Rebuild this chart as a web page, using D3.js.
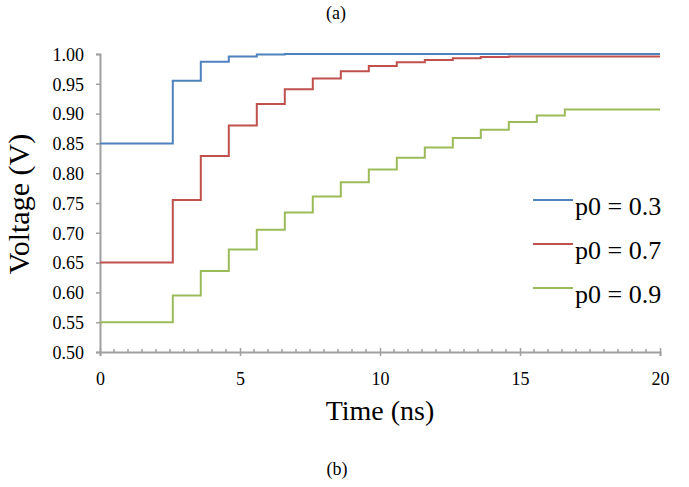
<!DOCTYPE html>
<html>
<head>
<meta charset="utf-8">
<script src="https://cdn.jsdelivr.net/npm/d3@7"></script>
<style>
  body { margin: 0; background: #fff; }
  svg text { font-family: "Liberation Serif", serif !important; fill: #000; }
</style>
</head>
<body>
<div id="chart"></div>
<script>
// switching instants (ns) shared by all three curves
const stepTimes = [0, 2.6, 3.6, 4.6, 5.6, 6.6, 7.6, 8.6, 9.6, 10.6, 11.6, 12.6, 13.6, 14.6, 15.6, 16.6];
const endTime = 20;

const seriesNames = ["p0 = 0.3", "p0 = 0.7", "p0 = 0.9"];
const seriesColors = ["#4F81BD", "#C0504D", "#9BBB59"];

// voltage after each switching instant
const voltsP03 = [0.850, 0.955, 0.987, 0.996, 0.999, 1.000];
const voltsP07 = [0.650, 0.755, 0.829, 0.880, 0.916, 0.941, 0.959, 0.971, 0.980, 0.986, 0.990, 0.993, 0.995, 0.996];
const voltsP09 = [0.550, 0.595, 0.636, 0.672, 0.705, 0.734, 0.761, 0.785, 0.806, 0.826, 0.843, 0.859, 0.873, 0.886, 0.897, 0.907];

const yTicks = [0.50, 0.55, 0.60, 0.65, 0.70, 0.75, 0.80, 0.85, 0.90, 0.95, 1.00];
const xTicks = [0, 5, 10, 15, 20];

const width = 689, height = 487;
const plotLeft = 100, plotRight = 660, plotTop = 54, plotBottom = 352;
const axisColor = "#A0A0A0";

const svg = d3.select("#chart").append("svg")
    .attr("width", width)
    .attr("height", height);

const x = d3.scaleLinear().domain([0, 20]).range([plotLeft, plotRight]);
const y = d3.scaleLinear().domain([0.5, 1.0]).range([plotBottom, plotTop]);

// y axis
const yAxis = svg.append("g")
    .attr("transform", `translate(${plotLeft},0)`)
    .call(d3.axisLeft(y).tickValues(yTicks).tickFormat(d3.format(".2f")).tickSize(4).tickPadding(12));
yAxis.selectAll("text").style("font-size", "18px").attr("dy", "0.35em");

// x axis, minor ticks every 0.5 ns
const minorTicks = d3.range(0, 20.01, 0.5).filter(function(d){ return d % 5 !== 0 });
svg.append("g").selectAll("line")
    .data(minorTicks)
    .join("line")
    .attr("x1", function(d){ return x(d) })
    .attr("x2", function(d){ return x(d) })
    .attr("y1", plotBottom - 3)
    .attr("y2", plotBottom)
    .attr("stroke", axisColor)
    .attr("stroke-width", 1.5);

const xAxis = svg.append("g")
    .attr("transform", `translate(0,${plotBottom})`)
    .call(d3.axisBottom(x).tickValues(xTicks).tickFormat(d3.format("d")).tickSize(4).tickPadding(16));
xAxis.selectAll("text").style("font-size", "18px");
xAxis.selectAll(".tick line").attr("y1", -4);

[yAxis, xAxis].forEach(function(a){
    a.select(".domain").attr("stroke", axisColor).attr("stroke-width", 2);
    a.selectAll(".tick line").attr("stroke", axisColor).attr("stroke-width", 1.5);
    a.attr("font-family", "Liberation Serif").attr("font-size", null);
});

// the stepped curves
const line = d3.line()
    .x(function(d){ return x(d.t) })
    .y(function(d){ return y(d.v) })
    .curve(d3.curveStepAfter);

const allVolts = [voltsP03, voltsP07, voltsP09];
allVolts.forEach(function(volts, k){
    const pts = volts.map(function(v, i){ return {t: stepTimes[i], v: v} });
    pts.push({t: endTime, v: volts[volts.length - 1]});
    svg.append("path")
        .datum(pts)
        .attr("d", line)
        .attr("fill", "none")
        .attr("stroke", seriesColors[k])
        .attr("stroke-width", 2);
});

// legend
const legendY = [200, 244, 288];
seriesNames.forEach(function(name, k){
    svg.append("line")
        .attr("x1", 533).attr("x2", 573)
        .attr("y1", legendY[k]).attr("y2", legendY[k])
        .attr("stroke", seriesColors[k])
        .attr("stroke-width", 2);
    svg.append("text")
        .attr("x", 575)
        .attr("y", legendY[k] + 15)
        .style("font-size", "26px")
        .text(name);
});

// axis titles
svg.append("text")
    .attr("x", 380)
    .attr("y", 420)
    .attr("text-anchor", "middle")
    .style("font-size", "28px")
    .text("Time (ns)");

svg.append("text")
    .attr("transform", "translate(29,204) rotate(-90)")
    .attr("text-anchor", "middle")
    .style("font-size", "30px")
    .text("Voltage (V)");

// sub-figure captions
svg.append("text")
    .attr("x", 336).attr("y", 19)
    .attr("text-anchor", "middle")
    .style("font-size", "18px")
    .text("(a)");

svg.append("text")
    .attr("x", 337).attr("y", 475)
    .attr("text-anchor", "middle")
    .style("font-size", "18px")
    .text("(b)");
</script>
</body>
</html>
